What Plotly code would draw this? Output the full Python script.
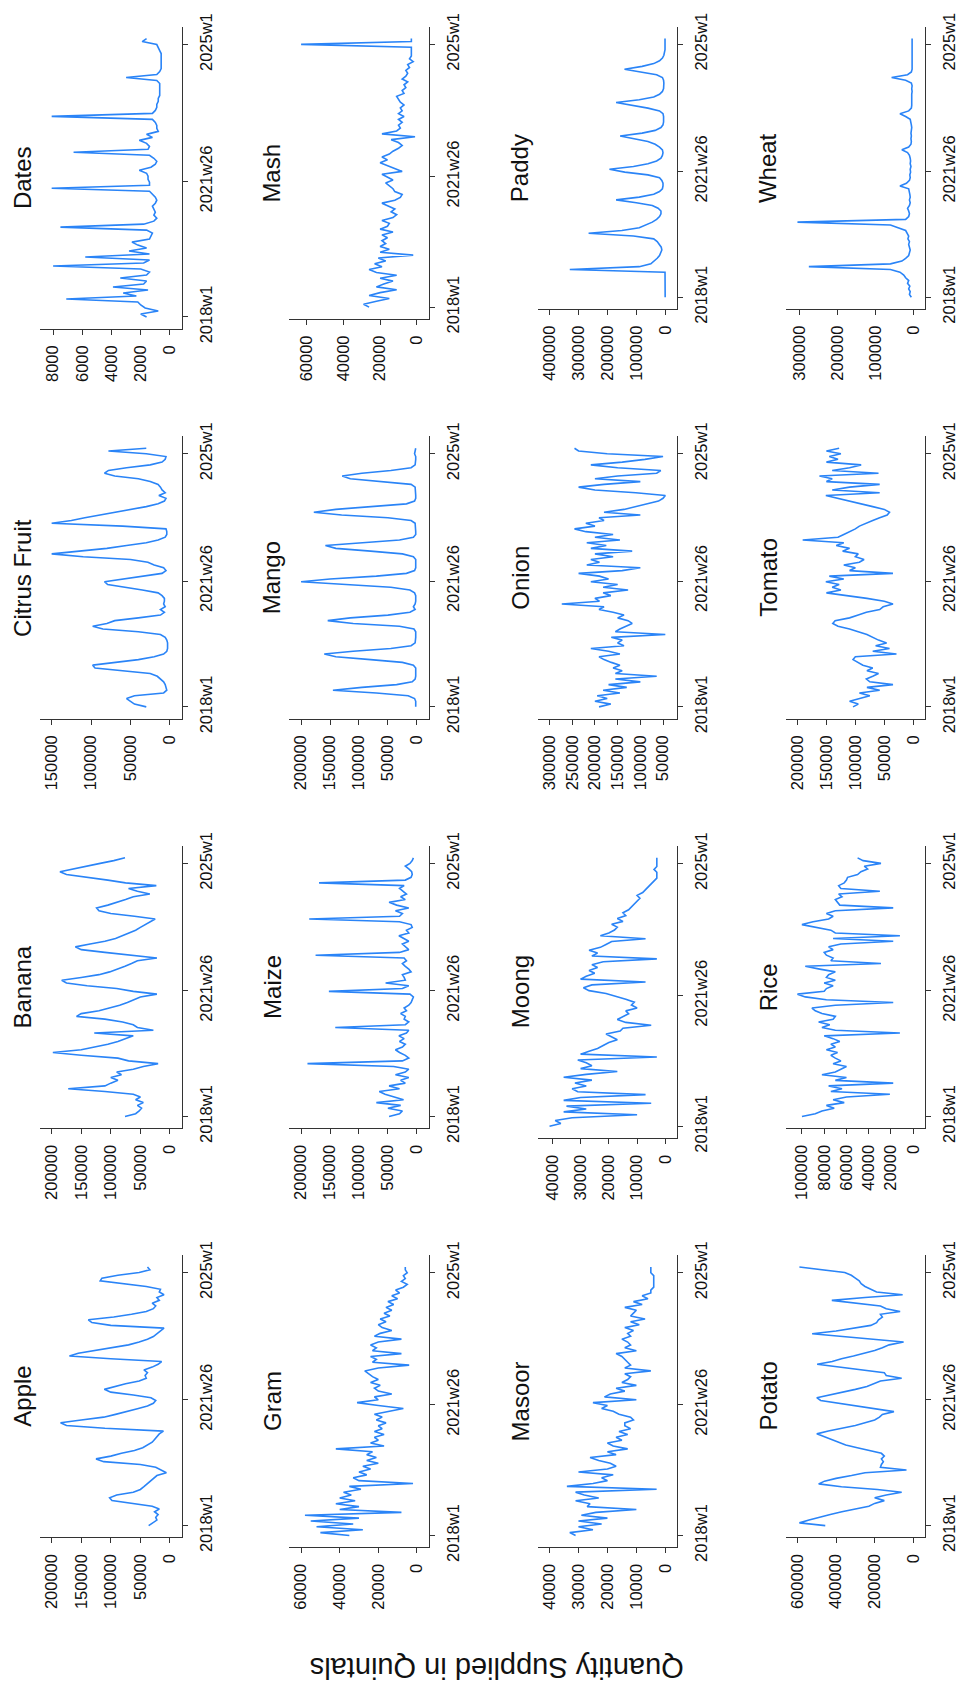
import plotly.graph_objects as go

# Week index counted from 2018w1 (Stata weekly calendar, 52 weeks a year), every 4th week
WEEKS = list(range(0, 373, 4))
TIME_TICKS = [0, 181, 364]
TIME_LABELS = ["2018w1", "2021w26", "2025w1"]

# Quantity supplied, thousand quintals, one value per entry of WEEKS
apple = [
    36, 28, 22, 24, 20, 26, 18, 30, 62, 98, 102, 90, 62,
    50, 44, 38, 33, 28, 22, 6, 16, 24, 50, 112, 125, 100,
    82, 60, 46, 38, 30, 26, 22, 18, 11, 110, 175, 185, 150,
    112, 92, 72, 55, 38, 28, 24, 32, 62, 100, 111, 95, 75,
    52, 40, 42, 38, 44, 30, 20, 14, 100, 170, 155, 125, 95,
    70, 52, 38, 28, 22, 15, 10, 100, 132, 138, 95, 65, 40,
    28, 24, 30, 18, 22, 10, 18, 16, 40, 85, 118, 115, 88,
    52, 34, 38]
banana = [
    76, 58, 52, 48, 55, 45, 58, 50, 62, 110, 172, 110, 100,
    88, 100, 82, 90, 62, 45, 20, 70, 88, 150, 198, 150, 125,
    105, 88, 75, 62, 128, 28, 55, 62, 80, 110, 158, 150, 120,
    100, 85, 72, 60, 50, 22, 62, 90, 140, 175, 183, 150, 120,
    102, 88, 76, 65, 55, 22, 70, 110, 150, 160, 135, 110, 92,
    80, 70, 58, 50, 42, 34, 25, 60, 100, 120, 124, 105, 88,
    75, 62, 34, 55, 70, 23, 75, 105, 140, 175, 186, 165, 140,
    118, 95, 76]
citrus = [
    30, 45, 50, 55, 45, 8, 4, 5, 6, 8, 12, 16, 25,
    60, 95, 98, 65, 40, 20, 8, 4, 3, 3, 3, 4, 6,
    12, 40, 85, 98, 80, 70, 40, 12, 7, 12, 6, 8, 7,
    7, 10, 15, 35, 57, 79, 83, 60, 35, 10, 5, 8, 20,
    28, 50, 110, 150, 113, 80, 55, 30, 15, 6, 4, 4, 5,
    60, 150, 125, 108, 88, 65, 48, 30, 15, 7, 5, 14, 6,
    10, 12, 15, 25, 40, 70, 83, 78, 55, 25, 10, 6, 5,
    30, 78, 30]
dates = [
    1.6, 2.0, 0.8, 1.7, 2.0, 2.2, 7.1, 2.3, 3.2, 1.5, 3.9, 1.8, 1.6,
    3.4, 1.6, 1.4, 2.0, 8.0, 1.8, 1.4, 5.8, 1.4, 2.8, 1.6, 2.2, 2.6,
    1.4, 1.3, 1.2, 1.6, 7.5, 1.8, 1.1, 0.9, 1.1, 1.0, 1.1, 1.2, 1.0,
    0.9, 1.0, 1.2, 1.4, 8.1, 1.4, 1.4, 1.5, 1.5, 1.6, 2.1, 1.3, 1.0,
    0.9, 1.1, 1.4, 6.6, 1.5, 1.4, 1.6, 2.1, 1.2, 1.6, 0.8, 0.9, 0.9,
    1.0, 1.2, 8.1, 1.2, 1.0, 0.9, 0.9, 0.8, 0.8, 0.7, 0.7, 0.7, 0.7,
    0.7, 0.9, 3.0, 0.9, 0.7, 0.6, 0.6, 0.6, 0.6, 0.6, 0.6, 0.7, 0.8,
    0.9, 1.9, 1.6]
gram = [
    35, 50, 28, 52, 33, 55, 30, 58, 8, 40, 30, 42, 32,
    40, 34, 38, 29, 35, 2, 30, 33, 26, 30, 24, 28, 20,
    26, 21, 26, 23, 42, 17, 24, 20, 22, 17, 22, 18, 20,
    16, 21, 18, 22, 15, 7, 20, 31, 20, 22, 13, 20, 22,
    19, 24, 20, 23, 25, 27, 20, 4, 23, 21, 24, 8, 23,
    21, 24, 20, 8, 22, 19, 13, 18, 20, 16, 19, 14, 17,
    13, 16, 12, 15, 10, 13, 9, 11, 7, 5, 8, 6, 7,
    5, 6, 6]
maize = [
    48, 30, 25, 50, 28, 70, 23, 40, 55, 65, 30, 48, 20,
    28, 14, 37, 20, 14, 40, 189, 25, 14, 20, 30, 37, 25,
    20, 30, 22, 31, 18, 14, 141, 20, 14, 22, 20, 28, 18,
    22, 14, 10, 8, 6, 12, 152, 25, 14, 54, 20, 22, 25,
    10, 14, 20, 25, 18, 22, 175, 30, 14, 20, 25, 14, 22,
    31, 14, 18, 8, 10, 30, 186, 30, 25, 37, 14, 35, 48,
    20, 28, 18, 25, 30, 22, 169, 20, 10, 8, 9, 14, 20,
    12, 8, 6]
mango = [
    2, 2, 2, 4, 15, 70, 145, 95, 35, 8, 3, 2, 2,
    2, 2, 6, 25, 80, 140, 160, 110, 45, 10, 3, 2, 2,
    2, 2, 5, 30, 110, 154, 115, 50, 12, 3, 6, 3, 2,
    2, 2, 4, 12, 45, 130, 200, 150, 70, 18, 4, 2, 2,
    2, 2, 6, 25, 80, 140, 158, 95, 30, 6, 2, 2, 2,
    2, 3, 10, 50, 130, 178, 140, 70, 18, 4, 2, 2, 2,
    2, 3, 10, 60, 115, 129, 95, 45, 10, 3, 2, 2, 2,
    4, 3, 2]
mash = [
    26, 29, 22, 15, 26, 20, 11, 22, 18, 13, 20, 11, 22,
    26, 19, 23, 17, 21, 2, 20, 15, 20, 17, 19, 16, 19,
    13, 20, 16, 15, 19, 13, 11, 14, 12, 16, 19, 12, 9,
    8, 12, 13, 15, 17, 13, 16, 19, 8, 12, 17, 20, 16,
    19, 15, 13, 10, 8, 10, 14, 1, 19, 11, 9, 10, 8,
    10, 7, 10, 8, 9, 7, 9, 10, 11, 7, 8, 6, 7,
    5, 8, 6, 5, 6, 4, 5, 2, 4, 3, 3, 3, 3,
    63, 3, 3]
masoor = [
    31, 33, 25, 30, 22, 30, 20, 29, 24, 10, 27, 26, 31,
    23, 28, 31, 3, 34, 25, 20, 22, 18, 30, 20, 17, 19,
    23, 26, 17, 20, 13, 18, 20, 15, 17, 13, 16, 12, 14,
    14, 11, 12, 16, 18, 22, 20, 25, 10, 21, 19, 14, 17,
    10, 15, 13, 12, 14, 5, 14, 12, 13, 14, 15, 17, 10,
    14, 12, 13, 15, 12, 13, 11, 14, 9, 12, 7, 12, 11,
    10, 14, 8, 11, 6, 8, 5, 5, 4, 4, 4, 4, 4,
    5, 5, 5]
moong = [
    41, 37, 39, 33, 10, 36, 28, 35, 5, 36, 30, 7, 31,
    33, 28, 32, 26, 36, 28, 17, 30, 26, 28, 31, 3, 30,
    27, 24, 22, 20, 17, 19, 21, 16, 15, 5, 14, 17, 15,
    13, 14, 10, 12, 11, 14, 18, 21, 27, 29, 26, 7, 30,
    28, 25, 27, 24, 26, 22, 3, 26, 24, 27, 23, 21, 19,
    7, 23, 20, 18, 17, 19, 15, 17, 14, 15, 13, 12, 11,
    10, 9, 10, 8, 7, 6, 5, 4, 3, 3, 3, 4, 3,
    3, 3, 3]
onion = [
    191, 165, 200, 173, 195, 145, 182, 130, 170, 100, 155, 64, 155,
    140, 160, 145, 164, 180, 191, 145, 170, 209, 136, 150, 140, 164,
    45, 155, 145, 130, 118, 127, 150, 136, 160, 191, 180, 273, 190,
    200, 165, 182, 127, 182, 150, 209, 170, 190, 236, 140, 100, 218,
    190, 209, 160, 200, 118, 209, 175, 218, 145, 200, 160, 220, 245,
    200, 220, 180, 191, 100, 180, 136, 110, 82, 60, 50, 45, 110,
    200, 236, 180, 100, 200, 150, 64, 55, 150, 209, 140, 90, 50,
    173, 236, 245]
paddy = [
    0.5, 0.5, 0.5, 0.5, 0.5, 0.5, 0.5, 0.5, 0.5, 1, 330, 90, 50,
    37, 28, 20, 15, 12, 14, 20, 28, 40, 110, 265, 150, 90,
    67, 45, 30, 20, 15, 15, 25, 45, 100, 170, 90, 40, 20,
    10, 8, 8, 12, 20, 60, 140, 193, 110, 60, 30, 15, 10,
    8, 10, 20, 35, 60, 110, 156, 80, 35, 15, 8, 6, 5,
    6, 8, 20, 60, 120, 170, 90, 40, 20, 10, 6, 5, 5,
    6, 10, 30, 80, 141, 80, 40, 20, 10, 5, 2, 1, 1,
    1, 1, 1]
potato = [
    456, 590, 540, 490, 430, 370, 300, 230, 200, 150, 200, 140, 60,
    186, 372, 490, 460, 400, 320, 250, 35, 170, 165, 155, 165, 150,
    165, 220, 290, 350, 390, 430, 470, 500, 440, 360, 300, 250, 200,
    175, 160, 100, 200, 300, 400, 480, 500, 430, 360, 300, 240, 200,
    170, 60, 140, 150, 260, 380, 498, 420, 372, 310, 250, 200, 160,
    125, 50, 200, 380, 524, 400, 300, 220, 190, 180, 160, 170, 68,
    140, 170, 300, 422, 250, 55, 190, 220, 250, 270, 280, 300, 321,
    355, 490, 590]
rice = [
    100, 88, 82, 71, 78, 62, 72, 60, 21, 74, 64, 76, 18,
    70, 60, 82, 70, 65, 60, 72, 65, 70, 74, 68, 78, 70,
    74, 66, 72, 80, 12, 70, 82, 75, 85, 72, 70, 82, 88,
    91, 70, 18, 78, 97, 104, 80, 78, 72, 80, 70, 78, 76,
    70, 84, 97, 29, 74, 72, 78, 80, 72, 76, 65, 18, 72,
    12, 70, 74, 88, 100, 90, 76, 72, 78, 70, 18, 66, 68,
    70, 64, 67, 30, 65, 67, 62, 60, 59, 50, 47, 41, 44,
    29, 45, 50]
tomato = [
    104, 95, 110, 90, 75, 93, 58, 80, 35, 75, 81, 70, 60,
    80, 70, 87, 95, 104, 100, 29, 70, 41, 65, 46, 60, 70,
    80, 95, 110, 130, 139, 135, 110, 95, 81, 58, 52, 35, 50,
    80, 116, 150, 125, 140, 128, 151, 120, 145, 35, 110, 100, 120,
    93, 85, 100, 95, 122, 110, 133, 120, 191, 130, 120, 110, 100,
    93, 80, 70, 58, 45, 41, 50, 70, 90, 110, 133, 151, 58,
    140, 110, 58, 150, 140, 162, 60, 140, 110, 90, 150, 130, 145,
    125, 150, 128]
wheat = [
    5, 10, 8, 12, 9, 15, 12, 20, 25, 35, 60, 275, 60,
    30, 20, 12, 10, 8, 10, 12, 10, 14, 12, 15, 20, 40,
    60, 305, 20, 12, 10, 12, 15, 10, 8, 10, 8, 9, 10,
    12, 35, 18, 10, 8, 9, 7, 8, 6, 8, 7, 8, 10,
    15, 30, 12, 6, 5, 6, 5, 6, 5, 4, 5, 6, 8,
    20, 35, 12, 5, 4, 4, 5, 4, 4, 3, 4, 3, 5,
    20, 57, 15, 5, 3, 3, 3, 3, 3, 3, 3, 3, 3,
    3, 3, 3]

COMMODITIES = ["Apple", "Banana", "Citrus Fruit", "Dates",
               "Gram", "Maize", "Mango", "Mash",
               "Masoor", "Moong", "Onion", "Paddy",
               "Potato", "Rice", "Tomato", "Wheat"]
SERIES = [apple, banana, citrus, dates, gram, maize, mango, mash,
          masoor, moong, onion, paddy, potato, rice, tomato, wheat]
QTY_TICKS = [
    [0, 50000, 100000, 150000, 200000],
    [0, 50000, 100000, 150000, 200000],
    [0, 50000, 100000, 150000],
    [0, 2000, 4000, 6000, 8000],
    [0, 20000, 40000, 60000],
    [0, 50000, 100000, 150000, 200000],
    [0, 50000, 100000, 150000, 200000],
    [0, 20000, 40000, 60000],
    [0, 10000, 20000, 30000, 40000],
    [0, 10000, 20000, 30000, 40000],
    [50000, 100000, 150000, 200000, 250000, 300000],
    [0, 100000, 200000, 300000, 400000],
    [0, 200000, 400000, 600000],
    [0, 20000, 40000, 60000, 80000, 100000],
    [0, 50000, 100000, 150000, 200000],
    [0, 100000, 200000, 300000],
]

# Page geometry (the combined graph is turned a quarter turn: time runs upward,
# quantity runs leftward, each panel title sits on the left of its panel)
W_PX, H_PX = 958, 1697
COL_LEFT = [40, 291, 541, 790.5]
COL_RIGHT = [183, 431.5, 681.5, 931]
ROW_TOP = [13, 429.5, 846, 1262]
PAD_PX = 12

LINE_COLOR = "#2a84f7"
AXIS_COLOR = "#333333"
TEXT_COLOR = "#111111"
FONT = "Liberation Sans, Arial, Helvetica, sans-serif"

fig = go.Figure()
annotations = []

for i, (name, vals, ticks) in enumerate(zip(COMMODITIES, SERIES, QTY_TICKS)):
    k = i + 1
    col = i // 4
    row = 3 - i % 4
    digits = len(str(ticks[-1]))
    top = ROW_TOP[row]
    bottom = top + 287 + (6 - digits) * 10
    left, right = COL_LEFT[col], COL_RIGHT[col]

    qty = [v * 1000 for v in vals]
    lo = min(ticks[0], min(qty))
    hi = max(ticks[-1], max(qty))
    qpad = PAD_PX * (hi - lo) / (right - left - 2 * PAD_PX)
    tpad = PAD_PX * (WEEKS[-1] - WEEKS[0]) / (bottom - top - 2 * PAD_PX)

    xname = "x" if k == 1 else f"x{k}"
    yname = "y" if k == 1 else f"y{k}"
    fig.add_trace(go.Scatter(
        x=qty, y=WEEKS, mode="lines",
        line=dict(color=LINE_COLOR, width=1.6),
        xaxis=xname, yaxis=yname, showlegend=False, hoverinfo="skip",
    ))

    common = dict(
        showline=True, linecolor=AXIS_COLOR, linewidth=1,
        ticks="outside", ticklen=5, tickwidth=1, tickcolor=AXIS_COLOR,
        tickangle=-90, showgrid=False, zeroline=False,
        tickfont=dict(family=FONT, size=16.5, color=TEXT_COLOR),
        ticklabelstandoff=4,
    )
    fig.layout["xaxis" if k == 1 else f"xaxis{k}"] = dict(
        domain=[left / W_PX, right / W_PX], anchor=yname, side="bottom",
        range=[hi + qpad, lo - qpad],
        tickmode="array", tickvals=ticks, ticktext=[str(t) for t in ticks],
        **common,
    )
    fig.layout["yaxis" if k == 1 else f"yaxis{k}"] = dict(
        domain=[1 - bottom / H_PX, 1 - top / H_PX], anchor=xname, side="right",
        range=[WEEKS[0] - tpad, WEEKS[-1] + tpad],
        tickmode="array", tickvals=TIME_TICKS, ticktext=TIME_LABELS,
        **common,
    )

    annotations.append(dict(
        text=name, xref="paper", yref="paper",
        x=(left - 17.5) / W_PX, y=1 - (top + bottom) / 2 / H_PX,
        xanchor="center", yanchor="middle", textangle=-90, showarrow=False,
        font=dict(family=FONT, size=24, color=TEXT_COLOR),
    ))

annotations.append(dict(
    text="Quantity Supplied in Quintals", xref="paper", yref="paper",
    x=500 / W_PX, y=1 - 1682 / H_PX, xanchor="center", yanchor="middle",
    textangle=180, showarrow=False,
    font=dict(family=FONT, size=29, color=TEXT_COLOR),
))

fig.update_layout(
    width=W_PX, height=H_PX, margin=dict(l=0, r=0, t=0, b=0),
    paper_bgcolor="white", plot_bgcolor="white",
    annotations=annotations, font=dict(family=FONT, color=TEXT_COLOR),
)

fig.write_html("out.html", config={"displayModeBar": False})
